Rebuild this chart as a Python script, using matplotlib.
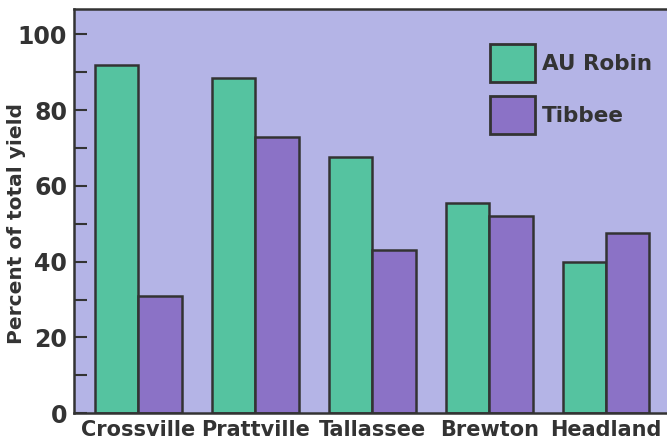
import matplotlib
matplotlib.use("Agg")
import matplotlib.pyplot as plt
import numpy as np

locations = ["Crossville", "Prattville", "Tallassee", "Brewton", "Headland"]
au_robin = [92, 88.5, 67.5, 55.5, 40]
tibbee = [31, 73, 43, 52, 47.5]

green = "#55c3a0"
purple = "#8b72c6"
bg = "#b4b4e6"
ink = "#333333"

fig = plt.figure(figsize=(6.67, 4.42), dpi=100)
ax = fig.add_axes([0.111, 0.065, 0.889, 0.915])
ax.set_facecolor(bg)

x = np.arange(len(locations))
w = 0.37
ax.bar(x - w / 2, au_robin, w, color=green, edgecolor=ink, linewidth=1.8, label="AU Robin")
ax.bar(x + w / 2, tibbee, w, color=purple, edgecolor=ink, linewidth=1.8, label="Tibbee")

ax.set_xlim(-0.55, 4.52)
ax.set_ylim(0, 106.7)
ax.set_yticks(np.arange(0, 101, 10))
ax.set_yticklabels([str(v) if v % 20 == 0 else "" for v in range(0, 101, 10)])
ax.set_xticks(x)
ax.set_xticklabels(locations)

ax.tick_params(axis="y", direction="in", length=9, width=1.5, color=ink, pad=5,
               labelsize=17, labelcolor=ink)
ax.tick_params(axis="x", length=0, pad=5, labelsize=15, labelcolor=ink)
for lab in ax.get_xticklabels() + ax.get_yticklabels():
    lab.set_fontweight("bold")

for side in ["left", "bottom", "top"]:
    ax.spines[side].set_color(ink)
    ax.spines[side].set_linewidth(1.8)
ax.spines["right"].set_visible(False)

ax.set_ylabel("Percent of total yield", fontsize=14.5, fontweight="bold", color=ink)
ax.yaxis.set_label_coords(-0.081, 0.469)

leg = ax.legend(loc="upper left", bbox_to_anchor=(0.7015, 0.913), frameon=False,
                fontsize=15.5, handlelength=2.09, handleheight=2.34, labelspacing=0.65,
                handletextpad=0.31, borderpad=0, borderaxespad=0)
for t in leg.get_texts():
    t.set_fontweight("bold")
    t.set_color(ink)
for p in leg.get_patches():
    p.set_linewidth(2)

fig.savefig("out.png", dpi=100, facecolor="white")
